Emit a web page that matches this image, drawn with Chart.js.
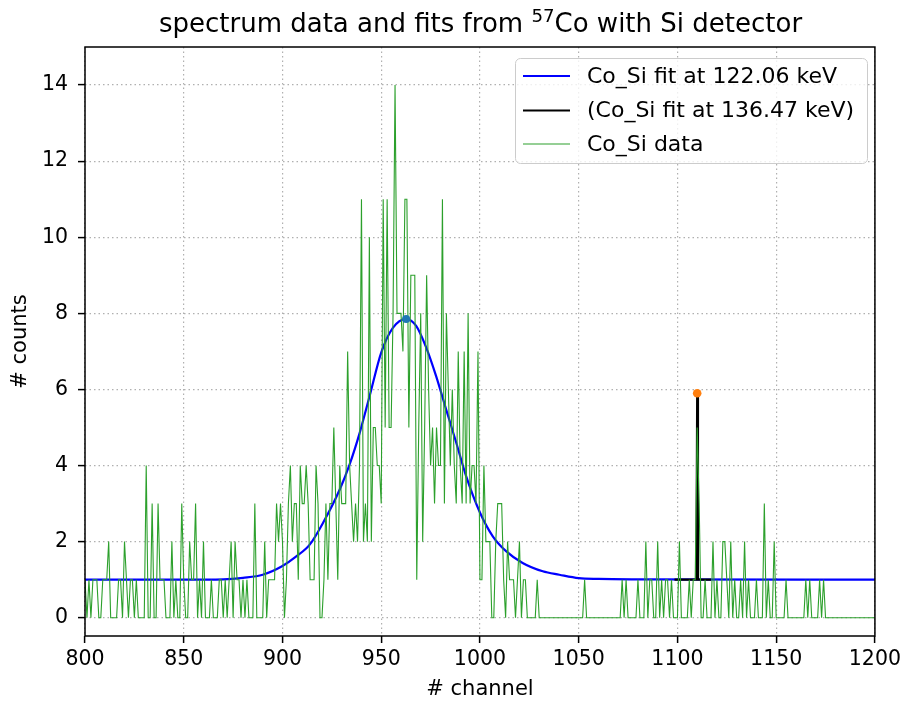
<!DOCTYPE html>
<html lang="en">
<head>
<meta charset="UTF-8">
<title>spectrum data and fits from 57Co with Si detector</title>
<script src="https://cdn.jsdelivr.net/npm/chart.js"></script>
<style>
  body { margin: 0; background: #fff; }
  #wrap { position: relative; width: 905px; height: 703px; }
  #title {
    position: absolute; left: 85px; width: 791px; top: 8px;
    text-align: center; font-family: "DejaVu Sans", sans-serif;
    font-size: 26px; line-height: 30px; color: #000;
  }
  #title sup { font-size: 0.7em; line-height: 0; vertical-align: 0.55em; }
</style>
</head>
<body>
<div id="wrap">
  <canvas id="spec" width="905" height="703"></canvas>
  <div id="title">spectrum data and fits from <sup>57</sup>Co with Si detector</div>
</div>
<script>
// channel axis starts here, one count per channel
const channelStart = 800;
const counts = [
  1,0,1,0,1,1,1,0,0,1,   1,1,2,0,0,0,0,1,1,0,   2,1,0,1,1,0,1,0,0,0,   0,4,0,0,3,0,0,3,1,1,   1,0,0,0,2,0,1,0,0,3,
  1,0,0,2,1,1,3,0,1,0,   2,0,0,0,1,0,0,0,1,1,   0,1,0,1,2,0,2,1,1,0,   1,0,1,0,0,0,3,0,0,0,   0,2,0,1,1,1,1,3,2,3,
  2,0,1,3,4,2,3,3,1,4,   3,3,4,3,1,1,1,4,3,0,   0,1,3,1,3,3,5,3,1,4,   3,3,3,7,4,3,2,3,2,4,   11,2,3,2,10,2,5,5,4,4,
  3,11,5,11,5,5,8,14,8,8, 8,7,11,11,5,9,9,9,1,5, 8,2,5,9,6,4,5,3,5,4,   4,11,3,8,6,4,6,4,3,7,  4,3,7,3,8,3,4,4,3,7,
  1,1,4,2,2,2,0,0,2,3,   3,3,1,0,2,1,1,1,0,1,   2,0,1,1,0,0,0,0,0,1,   0,0,0,0,0,0,0,0,0,0,   0,0,0,0,0,0,0,0,0,0,
  0,0,0,1,0,0,0,0,0,0,   0,0,0,0,0,0,0,0,0,0,   0,0,1,0,1,0,0,0,0,0,   1,0,0,0,2,0,1,1,0,0,   2,0,1,0,1,1,0,1,0,0,
  0,2,0,0,0,0,1,0,1,1,   5,3,0,0,1,0,0,0,2,0,   1,0,0,2,2,1,0,2,0,1,   0,0,1,0,2,0,1,0,0,0,   1,0,0,0,3,0,1,0,0,2,
  0,0,0,0,0,1,0,0,0,0,   0,0,0,0,0,1,0,1,0,0,   0,0,1,0,1,0,0,0,0,0,   0,0,0,0,0,0,0,0,0,0,   0,0,0,0,0,0,0,0,0,0,
  0
];

// fit at 122.06 keV
const fitChannels = [800, 850, 870, 880, 890, 900, 907, 913.8, 920.5, 929, 934, 939.1, 944.1, 950, 955.9, 962.6,
                     967.7, 972.8, 977.8, 982.9, 988, 993, 999.7, 1006.5, 1013.2, 1021.6, 1031.8, 1040.2, 1050, 1060, 1080, 1200];
const fitCounts   = [1.00, 1.00, 1.01, 1.05, 1.13, 1.36, 1.61, 1.92, 2.49, 3.37, 4.03, 4.86, 5.82, 6.97, 7.62, 7.85,
                     7.67, 7.10, 6.35, 5.47, 4.60, 3.72, 2.80, 2.14, 1.75, 1.44, 1.22, 1.13, 1.04, 1.02, 1.01, 1.00];

// fit at 136.47 keV
const fit2Channels = [1098.5, 1109.6, 1110, 1110.4, 1117];
const fit2Counts   = [1, 1, 5.9, 1, 1];

// fitted peak maxima
const peakChannels = [962.6, 1110];
const peakCounts   = [7.85, 5.9];

const xTicks = [800, 850, 900, 950, 1000, 1050, 1100, 1150, 1200];
const yTicks = [0, 2, 4, 6, 8, 10, 12, 14];
const legendLabels = ['Co_Si fit at 122.06 keV', '(Co_Si fit at 136.47 keV)', 'Co_Si data'];

const dataPts = counts.map((c, i) => ({ x: channelStart + i, y: c }));
const fitPts = fitChannels.map((x, i) => ({ x: x, y: fitCounts[i] }));
const fit2Pts = fit2Channels.map((x, i) => ({ x: x, y: fit2Counts[i] }));

Chart.defaults.font.family = '"DejaVu Sans", sans-serif';
Chart.defaults.color = '#000';

// frame around the axes + boxed legend in the upper right
const framePlugin = {
  id: 'frame',
  afterDatasetsDraw(chart) {
    const a = chart.chartArea, ctx = chart.ctx;
    ctx.save();
    ctx.strokeStyle = '#000';
    ctx.lineWidth = 1.5;
    ctx.strokeRect(a.left, a.top, a.right - a.left, a.bottom - a.top);
    ctx.restore();
  },
  afterDraw(chart) {
    const ctx = chart.ctx;
    ctx.save();
    ctx.beginPath();
    ctx.roundRect(515.5, 58.5, 352, 105, 5);
    ctx.fillStyle = 'rgba(255,255,255,0.8)';
    ctx.fill();
    ctx.strokeStyle = '#cccccc';
    ctx.lineWidth = 1;
    ctx.stroke();
    const rows = [76, 110.5, 144];
    const sets = chart.data.datasets;
    ctx.font = '22px "DejaVu Sans"';
    ctx.textBaseline = 'middle';
    legendLabels.forEach((lab, i) => {
      ctx.beginPath();
      ctx.moveTo(523, rows[i]);
      ctx.lineTo(570, rows[i]);
      ctx.strokeStyle = sets[i].borderColor;
      ctx.lineWidth = sets[i].borderWidth;
      ctx.stroke();
      ctx.fillStyle = '#000';
      ctx.fillText(lab, 587, rows[i] + 1);
    });
    ctx.restore();
  }
};

const gridOpts = { color: '#b0b0b0', lineWidth: 1.2, tickLength: 7,
                   tickColor: '#000', tickWidth: 1.5, tickBorderDash: [] };

new Chart(document.getElementById('spec'), {
  type: 'line',
  data: {
    datasets: [
      { label: legendLabels[0], data: fitPts, borderColor: '#0000ff', borderWidth: 2.2,
        pointRadius: 0, cubicInterpolationMode: 'monotone', order: 3 },
      { label: legendLabels[1], data: fit2Pts, borderColor: '#000000', borderWidth: 2.2,
        pointRadius: 0, tension: 0, order: 2 },
      { label: legendLabels[2], data: dataPts, borderColor: '#2ca02c', borderWidth: 1.1,
        pointRadius: 0, tension: 0, order: 1 },
      { label: 'peak 1', data: [{ x: peakChannels[0], y: peakCounts[0] }], showLine: false,
        pointRadius: 4, pointBackgroundColor: '#1f77b4', pointBorderWidth: 0, order: 0 },
      { label: 'peak 2', data: [{ x: peakChannels[1], y: peakCounts[1] }], showLine: false,
        pointRadius: 4.3, pointBackgroundColor: '#ff7f0e', pointBorderWidth: 0, order: 0 }
    ]
  },
  options: {
    responsive: false,
    devicePixelRatio: 1,
    animation: false,
    layout: { padding: { left: 0, top: 47, right: 29, bottom: 0 } },
    plugins: { legend: { display: false }, tooltip: { enabled: false } },
    scales: {
      x: {
        type: 'linear', min: 800, max: 1200,
        afterBuildTicks: s => { s.ticks = xTicks.map(v => ({ value: v })); },
        afterFit: s => { s.height = 67; },
        border: { display: false, dash: [1.5, 3] },
        grid: gridOpts,
        ticks: { font: { size: 20.5 }, padding: 4, maxRotation: 0, callback: v => String(v) },
        title: { display: true, text: '# channel', font: { size: 21 }, padding: { top: 0, bottom: 1 } }
      },
      y: {
        min: -0.48, max: 15,
        afterBuildTicks: s => { s.ticks = yTicks.map(v => ({ value: v })); },
        afterFit: s => { s.width = 85; },
        border: { display: false, dash: [1.5, 3] },
        grid: gridOpts,
        ticks: { font: { size: 20.5 }, padding: 10, callback: v => String(v) },
        title: { display: true, text: '# counts', font: { size: 21 }, padding: { top: 8, bottom: 0 } }
      }
    }
  },
  plugins: [framePlugin]
});
</script>
</body>
</html>
